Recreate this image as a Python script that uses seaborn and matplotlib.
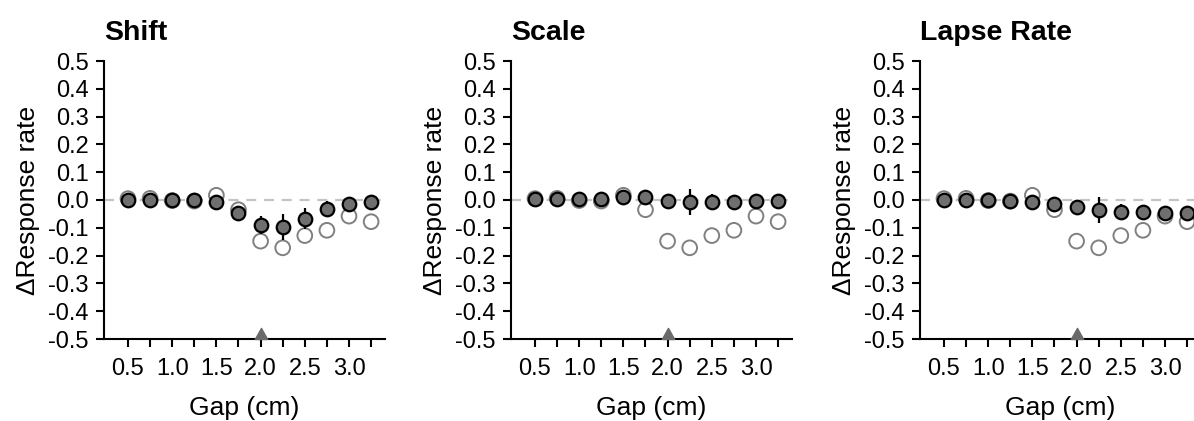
import numpy as np
import pandas as pd
import matplotlib
matplotlib.use("Agg")
import matplotlib.pyplot as plt
from matplotlib.path import Path
import seaborn as sns

# ---------------- data ----------------
gaps = [0.5, 0.75, 1.0, 1.25, 1.5, 1.75, 2.0, 2.25, 2.5, 2.75, 3.0, 3.25]
observed = [0.005, 0.006, -0.002, -0.004, 0.017, -0.035, -0.148, -0.172, -0.128, -0.109, -0.058, -0.078]

panel_titles = ["Shift", "Scale", "Lapse Rate"]
shift_model = [0.0, 0.0, 0.0, 0.0, -0.007, -0.045, -0.090, -0.098, -0.068, -0.032, -0.013, -0.006]
shift_err = [0.004, 0.004, 0.004, 0.004, 0.010, 0.020, 0.033, 0.047, 0.038, 0.029, 0.012, 0.010]
scale_model = [0.002, 0.004, 0.003, 0.002, 0.009, 0.009, -0.003, -0.008, -0.007, -0.006, -0.003, -0.002]
scale_err = [0.004, 0.004, 0.004, 0.004, 0.006, 0.010, 0.022, 0.046, 0.030, 0.022, 0.010, 0.008]
lapse_model = [0.0, 0.0, -0.001, -0.002, -0.008, -0.016, -0.026, -0.037, -0.043, -0.044, -0.046, -0.047]
lapse_err = [0.004, 0.004, 0.004, 0.004, 0.008, 0.012, 0.020, 0.047, 0.030, 0.025, 0.010, 0.010]

reference_gap = 2.0
xtick_labels = ["0.5", "1.0", "1.5", "2.0", "2.5", "3.0"]
ytick_values = [0.5, 0.4, 0.3, 0.2, 0.1, 0.0, -0.1, -0.2, -0.3, -0.4, -0.5]

models = [shift_model, scale_model, lapse_model]
errors = [shift_err, scale_err, lapse_err]

# ---------------- style ----------------
sns.set_style("ticks")
plt.rcParams["font.family"] = ["Liberation Sans", "DejaVu Sans"]
plt.rcParams["text.color"] = "black"
plt.rcParams["axes.labelcolor"] = "black"
plt.rcParams["xtick.color"] = "black"
plt.rcParams["ytick.color"] = "black"

fig = plt.figure(figsize=(11.94, 4.21), dpi=100)
axes_lefts = [104, 511, 920]
ax_w = 281
top_px, bot_px = 61, 339
W, H = 1194, 421

tri = Path([(-1, 0), (1, 0), (0, 1.8), (-1, 0)],
           [Path.MOVETO, Path.LINETO, Path.LINETO, Path.CLOSEPOLY])

for i, title in enumerate(panel_titles):
    ax = fig.add_axes([axes_lefts[i] / W, 1 - bot_px / H, ax_w / W, (bot_px - top_px) / H])
    df = pd.DataFrame({"gap": gaps, "observed": observed,
                       "model": models[i], "err": errors[i]})

    ax.axhline(0, color="#c4c4c4", lw=1.6, ls=(0, (4.5, 3.5)), zorder=1)

    sns.scatterplot(data=df, x="gap", y="observed", ax=ax, marker="o", s=112,
                    facecolor="none", edgecolor="#808080", linewidth=1.4, zorder=2)
    ax.errorbar(df["gap"], df["model"], yerr=df["err"], fmt="none",
                ecolor="black", elinewidth=1.6, capsize=0, zorder=3)
    sns.scatterplot(data=df, x="gap", y="model", ax=ax, marker="o", s=95,
                    color="#6f6f6f", edgecolor="black", linewidth=1.6, zorder=4)

    ax.plot([reference_gap], [-0.5], marker=tri, markersize=16, color="#6a6a6a",
            ls="none", clip_on=False, zorder=5)

    ax.set_xlim(0.229, 3.407)
    ax.set_ylim(-0.5, 0.5)
    ax.set_xticks([float(t) for t in xtick_labels])
    ax.set_xticklabels(xtick_labels)
    ax.set_xticks(gaps, minor=True)
    ax.set_yticks(ytick_values)
    ax.set_yticklabels([f"{v:.1f}" for v in ytick_values])

    for side in ["top", "right"]:
        ax.spines[side].set_visible(False)
    for side in ["left", "bottom"]:
        ax.spines[side].set_linewidth(1.5)
        ax.spines[side].set_color("black")
    ax.tick_params(axis="both", which="both", direction="out", length=6,
                   width=1.5, color="black", labelsize=17)
    ax.tick_params(axis="x", which="major", pad=8)
    ax.tick_params(axis="y", which="major", pad=5)

    ax.set_xlabel("Gap (cm)", fontsize=19, labelpad=11)
    ax.set_ylabel("\u0394Response rate", fontsize=19, labelpad=6)
    ax.set_title(title, loc="left", fontsize=20.5, fontweight="bold", pad=15)
    ax.set_facecolor("white")

fig.savefig("out.png", dpi=100, facecolor="white")
